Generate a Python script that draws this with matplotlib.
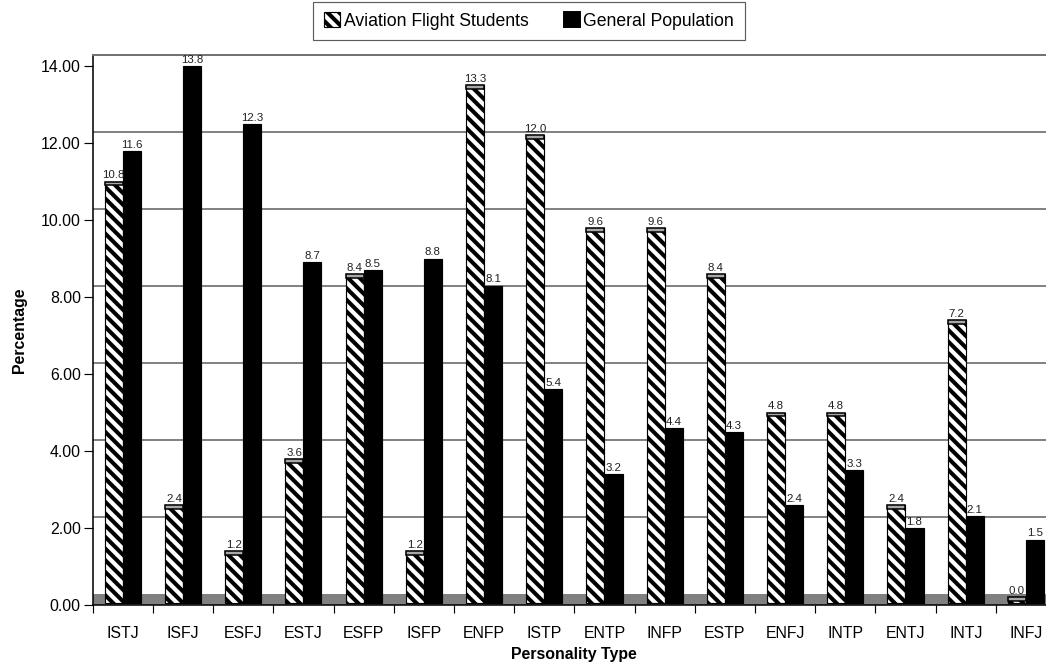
import numpy as np
import matplotlib
matplotlib.use('Agg')
import matplotlib.pyplot as plt
from matplotlib.patches import Patch

types = ['ISTJ', 'ISFJ', 'ESFJ', 'ESTJ', 'ESFP', 'ISFP', 'ENFP', 'ISTP',
         'ENTP', 'INFP', 'ESTP', 'ENFJ', 'INTP', 'ENTJ', 'INTJ', 'INFJ']
aviation = [10.8, 2.4, 1.2, 3.6, 8.4, 1.2, 13.3, 12.0,
            9.6, 9.6, 8.4, 4.8, 4.8, 2.4, 7.2, 0.0]
general = [11.6, 13.8, 12.3, 8.7, 8.5, 8.8, 8.1, 5.4,
           3.2, 4.4, 4.3, 2.4, 3.3, 1.8, 2.1, 1.5]
y_ticks = [0, 2, 4, 6, 8, 10, 12, 14]

# fake 3d look of the old spreadsheet chart
FLOOR = 0.29   # depth of the grey floor / wall offset
BASE = 0.05
LIFT = 0.2
CAP = 0.1
HATCH = chr(92) * 4   # backslashes -> dense diagonal stripes

DPI = 140
plt.rcParams['font.family'] = ['Liberation Sans', 'DejaVu Sans']
plt.rcParams['hatch.linewidth'] = 2.1

fig = plt.figure(figsize=(1046 / DPI, 665 / DPI), dpi=DPI)
# axes runs past the right edge like in the original screenshot
ax = fig.add_axes([92.7 / 1046, 1 - 605 / 665, 963.3 / 1046, 550 / 665])

x = np.arange(len(types))
w = 0.3
av = np.array(aviation)
ge = np.array(general)

ax.axhspan(0, FLOOR, color='#808080', zorder=1, lw=0)
for t in y_ticks[1:-1]:
    ax.axhline(t + FLOOR, color='#808080', lw=1.0, zorder=0.5)

ax.bar(x - w / 2, av + LIFT - BASE, w, bottom=BASE, facecolor='white',
       edgecolor='black', hatch=HATCH, lw=0.6, zorder=2)
ax.bar(x - w / 2, CAP, w, bottom=av + LIFT - CAP, facecolor='#a8a8a8',
       edgecolor='black', lw=0.8, zorder=3)
ax.bar(x + w / 2, ge + LIFT - BASE, w, bottom=BASE, facecolor='black',
       edgecolor='black', lw=0.6, zorder=2)

for i in range(len(types)):
    ax.text(x[i] - w / 2, av[i] + LIFT + 0.03, f'{aviation[i]:.1f}',
            ha='center', va='bottom', fontsize=5.9, color='#222222', zorder=4)
    ax.text(x[i] + w / 2, ge[i] + LIFT + 0.03, f'{general[i]:.1f}',
            ha='center', va='bottom', fontsize=5.9, color='#222222', zorder=4)

ax.set_xlim(-0.5, len(types) - 0.5)
ax.set_ylim(0, 14 + FLOOR)
ax.set_yticks(y_ticks)
ax.set_yticklabels([f'{t:.2f}' for t in y_ticks], fontsize=8.2)
ax.set_xticks(x)
ax.set_xticklabels(types, fontsize=8.2)
ax.set_xticks(np.arange(len(types) + 1) - 0.5, minor=True)
ax.tick_params(axis='x', which='major', length=0, pad=11)
ax.tick_params(axis='x', which='minor', length=4.3, width=0.6, direction='out')
ax.tick_params(axis='y', length=4.6, width=0.6, pad=1.5)

ax.spines['right'].set_visible(False)
ax.spines['top'].set_color('#707070')
ax.spines['top'].set_linewidth(1.0)
ax.spines['left'].set_linewidth(0.8)
ax.spines['bottom'].set_linewidth(0.8)

ax.set_ylabel('Percentage', fontsize=8.2, fontweight='bold', labelpad=7)
ax.set_xlabel('Personality Type', fontsize=8.2, fontweight='bold', labelpad=3)

handles = [Patch(facecolor='white', edgecolor='black', hatch=HATCH, lw=0.6),
           Patch(facecolor='black', edgecolor='black')]
leg = fig.legend(handles, ['Aviation Flight Students', 'General Population'],
                 loc='center', bbox_to_anchor=(529 / 1046, 1 - 21 / 665),
                 ncol=2, fontsize=9.1, frameon=True, fancybox=False,
                 handlelength=0.9, handleheight=0.9, handletextpad=0.2,
                 columnspacing=2.0, borderpad=0.6, borderaxespad=0)
leg.get_frame().set_edgecolor('#333333')
leg.get_frame().set_linewidth(0.6)

fig.savefig('out.png', dpi=DPI)
